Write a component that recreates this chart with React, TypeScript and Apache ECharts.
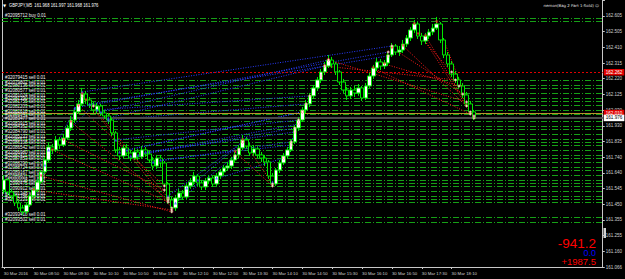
import React, { useEffect, useRef } from "react";
import * as echarts from "echarts";

const FONT = "Liberation Sans, Arial, sans-serif";

// ---- axis ticks ----
const timeLabels = [
  "30 Mar 2016", "30 Mar 08:50", "30 Mar 09:30", "30 Mar 10:10", "30 Mar 10:50", "30 Mar 11:30",
  "30 Mar 12:10", "30 Mar 12:50", "30 Mar 13:30", "30 Mar 14:10", "30 Mar 14:50", "30 Mar 15:30",
  "30 Mar 16:10", "30 Mar 16:50", "30 Mar 17:30", "30 Mar 18:10",
];
const yTickLabels = [
  "161.066", "161.160", "161.255", "161.355", "161.450", "161.545", "161.640", "161.740", "161.835",
  "161.930", "162.030", "162.125", "162.220", "162.315", "162.410", "162.505", "162.605",
];
const Y_MIN = 161.066;
const Y_MAX = 162.703;
const Y_STEP = 0.0962;
const TOTAL_SLOTS = 161;

// ---- GBPJPY M5 bars ----
const openPrices = [
  161.538, 161.600, 161.526, 161.502, 161.459, 161.428, 161.404, 161.446, 161.502, 161.538,
  161.587, 161.649, 161.722, 161.802, 161.784, 161.845, 161.814, 161.857, 161.918, 161.967,
  162.017, 162.066, 162.127, 162.090, 162.059, 162.029, 162.053, 162.010, 161.992, 161.967,
  161.888, 161.784, 161.747, 161.796, 161.765, 161.734, 161.771, 161.741, 161.784, 161.759,
  161.722, 161.685, 161.734, 161.704, 161.575, 161.477, 161.428, 161.489, 161.520, 161.495,
  161.563, 161.587, 161.624, 161.581, 161.557, 161.594, 161.612, 161.575, 161.624, 161.649,
  161.673, 161.685, 161.722, 161.753, 161.796, 161.845, 161.808, 161.765, 161.790, 161.753,
  161.734, 161.710, 161.624, 161.575, 161.661, 161.704, 161.747, 161.784, 161.833, 161.918,
  161.967, 162.029, 162.066, 162.115, 162.164, 162.213, 162.262, 162.298, 162.335, 162.311,
  162.262, 162.200, 162.151, 162.115, 162.151, 162.133, 162.164, 162.102, 162.176, 162.237,
  162.286, 162.323, 162.298, 162.317, 162.366, 162.421, 162.384, 162.396, 162.433, 162.470,
  162.519, 162.556, 162.482, 162.452, 162.482, 162.507, 162.531, 162.556, 162.458, 162.366,
  162.311, 162.249, 162.213, 162.176, 162.121, 162.066, 162.017,
];
const closePrices = [
  161.600, 161.526, 161.502, 161.459, 161.428, 161.404, 161.446, 161.502, 161.538, 161.587,
  161.649, 161.722, 161.802, 161.784, 161.845, 161.814, 161.857, 161.918, 161.967, 162.017,
  162.066, 162.127, 162.090, 162.059, 162.029, 162.053, 162.010, 161.992, 161.967, 161.888,
  161.784, 161.747, 161.796, 161.765, 161.734, 161.771, 161.741, 161.784, 161.759, 161.722,
  161.685, 161.734, 161.704, 161.575, 161.477, 161.428, 161.489, 161.520, 161.495, 161.563,
  161.587, 161.624, 161.581, 161.557, 161.594, 161.612, 161.575, 161.624, 161.649, 161.673,
  161.685, 161.722, 161.753, 161.796, 161.845, 161.808, 161.765, 161.790, 161.753, 161.734,
  161.710, 161.624, 161.575, 161.661, 161.704, 161.747, 161.784, 161.833, 161.918, 161.967,
  162.029, 162.066, 162.115, 162.164, 162.213, 162.262, 162.298, 162.335, 162.311, 162.262,
  162.200, 162.151, 162.115, 162.151, 162.133, 162.164, 162.102, 162.176, 162.237, 162.286,
  162.323, 162.298, 162.317, 162.366, 162.421, 162.384, 162.396, 162.433, 162.470, 162.519,
  162.556, 162.482, 162.452, 162.482, 162.507, 162.531, 162.556, 162.458, 162.366, 162.311,
  162.249, 162.213, 162.176, 162.121, 162.066, 162.017, 161.976,
];
const lowPrices = [
  161.514, 161.508, 161.477, 161.440, 161.410, 161.385, 161.391, 161.434, 161.483, 161.526,
  161.575, 161.636, 161.710, 161.759, 161.771, 161.790, 161.802, 161.845, 161.900, 161.949,
  162.004, 162.053, 162.066, 162.041, 162.010, 162.004, 161.992, 161.974, 161.943, 161.869,
  161.765, 161.722, 161.734, 161.747, 161.716, 161.722, 161.722, 161.728, 161.741, 161.704,
  161.661, 161.667, 161.679, 161.557, 161.453, 161.397, 161.410, 161.471, 161.477, 161.483,
  161.545, 161.569, 161.563, 161.538, 161.538, 161.575, 161.557, 161.563, 161.606, 161.630,
  161.655, 161.667, 161.704, 161.734, 161.784, 161.790, 161.747, 161.747, 161.734, 161.710,
  161.685, 161.606, 161.557, 161.563, 161.642, 161.691, 161.728, 161.771, 161.820, 161.900,
  161.955, 162.010, 162.047, 162.096, 162.145, 162.194, 162.243, 162.286, 162.286, 162.243,
  162.182, 162.133, 162.090, 162.096, 162.108, 162.115, 162.084, 162.090, 162.164, 162.219,
  162.268, 162.274, 162.280, 162.298, 162.354, 162.366, 162.360, 162.378, 162.415, 162.452,
  162.501, 162.464, 162.427, 162.433, 162.464, 162.488, 162.519, 162.439, 162.347, 162.292,
  162.231, 162.194, 162.157, 162.102, 162.047, 161.998, 161.967,
];
const highPrices = [
  161.624, 161.612, 161.545, 161.514, 161.477, 161.446, 161.459, 161.514, 161.557, 161.606,
  161.661, 161.741, 161.827, 161.820, 161.869, 161.863, 161.882, 161.937, 161.992, 162.041,
  162.090, 162.164, 162.145, 162.108, 162.078, 162.072, 162.066, 162.029, 162.010, 161.980,
  161.900, 161.802, 161.814, 161.820, 161.784, 161.796, 161.790, 161.808, 161.802, 161.777,
  161.741, 161.753, 161.753, 161.716, 161.587, 161.495, 161.508, 161.545, 161.538, 161.581,
  161.612, 161.649, 161.636, 161.600, 161.612, 161.630, 161.624, 161.642, 161.667, 161.691,
  161.710, 161.741, 161.771, 161.814, 161.876, 161.863, 161.827, 161.814, 161.802, 161.771,
  161.753, 161.722, 161.642, 161.673, 161.722, 161.765, 161.802, 161.851, 161.937, 161.986,
  162.047, 162.090, 162.133, 162.182, 162.231, 162.280, 162.323, 162.366, 162.354, 162.323,
  162.274, 162.219, 162.170, 162.170, 162.176, 162.188, 162.176, 162.194, 162.256, 162.305,
  162.347, 162.341, 162.335, 162.384, 162.439, 162.433, 162.421, 162.458, 162.488, 162.537,
  162.580, 162.568, 162.501, 162.501, 162.525, 162.556, 162.599, 162.568, 162.470, 162.384,
  162.329, 162.268, 162.231, 162.194, 162.139, 162.084, 162.029,
];

// ---- open order lines ----
const buyLevels = [162.590, 162.570];
const buyLabels = ["#32095712 buy 0.01", ""];
const sellLevels = [
  162.205, 162.180, 162.155, 162.130, 162.105, 162.080, 162.055, 162.030, 162.005, 161.980,
  161.955, 161.930, 161.905, 161.880, 161.855, 161.830, 161.805, 161.780, 161.755, 161.730,
  161.705, 161.680, 161.655, 161.630, 161.605, 161.580, 161.555, 161.530, 161.505, 161.480,
  161.455,
];
const sellTickets = [
  "#32079415", "#32079802", "#32080136", "#32080577", "#32081024", "#32081390", "#32081755",
  "#32082203", "#32082618", "#32083041", "#32083477", "#32083915", "#32084362", "#32084790",
  "#32085233", "#32085671", "#32086108", "#32086542", "#32086980", "#32087411", "#32087853",
  "#32088290", "#32088724", "#32089167", "#32089601", "#32090038", "#32090475", "#32090912",
  "#32091348", "#32091786", "#32092221",
];
const lowSellLevels = [161.365, 161.340];
const lowSellLabels = ["#32093418 sell 0.01", "#32093502 sell 0.01"];

const redLevel = 162.262;
const breakEvenLevel = 162.010;
const bidPrice = 161.976;

// ---- closed trades: [openBar, openPrice, closeBar, closePrice] ----
const buyTrades = [
  [19, 162.041, 103, 162.384], [21, 162.139, 104, 162.421], [23, 162.066, 103, 162.360],
  [26, 162.017, 87, 162.335], [28, 161.980, 86, 162.298], [31, 161.771, 80, 162.017],
  [34, 161.747, 79, 161.943], [38, 161.771, 78, 161.894], [42, 161.722, 77, 161.814],
  [44, 161.502, 64, 161.833], [46, 161.459, 62, 161.747], [49, 161.551, 75, 161.734],
  [72, 161.587, 85, 162.237], [12, 161.784, 24, 162.053], [11, 161.691, 21, 162.115],
  [30, 161.845, 79, 161.967], [33, 161.784, 80, 162.017], [36, 161.753, 78, 161.918],
  [40, 161.710, 77, 161.833], [28, 161.967, 81, 162.066], [25, 162.029, 82, 162.115],
  [52, 161.600, 64, 161.833], [57, 161.612, 63, 161.784],
];
const sellTrades = [
  [21, 162.127, 44, 161.489], [22, 162.090, 45, 161.428], [16, 161.845, 43, 161.538],
  [10, 161.624, 45, 161.404], [13, 161.784, 44, 161.465], [64, 161.845, 72, 161.575],
  [62, 161.771, 72, 161.563], [87, 162.335, 124, 162.078], [104, 162.409, 123, 162.127],
  [110, 162.556, 125, 162.017], [116, 162.568, 126, 161.980], [107, 162.421, 124, 162.053],
  [102, 162.311, 122, 162.176], [111, 162.495, 120, 162.262], [99, 162.286, 125, 162.004],
  [86, 162.298, 121, 162.213], [113, 162.482, 126, 161.992], [18, 161.955, 44, 161.477],
  [20, 162.053, 43, 161.563], [8, 161.538, 45, 161.416],
];

const pnlTotal = "-941.2";
const pnlOpen = "0.0";
const pnlClosed = "+1987.5";
const headerText = "GBPJPY,M5  161.968 161.997 161.968 161.976";
const expertText = "nemon(Bag 2 Part 1-Sold) \u263A";

export default function App() {
  const ref = useRef<HTMLDivElement>(null);

  useEffect(() => {
    if (!ref.current) return;
    const chart = echarts.init(ref.current, null, { renderer: "svg" });

    const categories = Array.from({ length: TOTAL_SLOTS }, (_, i) => {
      const m = 8 * 60 + 10 + 5 * i;
      return `${String(Math.floor(m / 60)).padStart(2, "0")}:${String(m % 60).padStart(2, "0")}`;
    });
    const candles = openPrices.map((o, i) => [o, closePrices[i], lowPrices[i], highPrices[i]]);

    const green = { color: "#169f16", width: 1, type: [6, 2, 1, 2] as any };
    const orderLabel = (text: string) => ({
      show: text !== "",
      position: "insideStartTop",
      formatter: text,
      color: "#f2f2f2",
      fontSize: 4.5,
      fontFamily: FONT,
      distance: [3, 0.5],
    });
    const orderData: any[] = [];
    buyLevels.forEach((p, i) => orderData.push({ yAxis: p, lineStyle: green, label: orderLabel(buyLabels[i]) }));
    sellLevels.forEach((p, i) =>
      orderData.push({ yAxis: p, lineStyle: green, label: orderLabel(`${sellTickets[i]} sell 0.01`) })
    );
    lowSellLevels.forEach((p, i) => orderData.push({ yAxis: p, lineStyle: green, label: orderLabel(lowSellLabels[i]) }));

    const boxLabel = (text: string, bg: string, fg: string) => ({
      show: true,
      position: "end",
      formatter: text,
      backgroundColor: bg,
      color: fg,
      fontSize: 4.6,
      fontFamily: FONT,
      padding: [1, 2, 0.5, 2],
      distance: 1,
    });
    const specialData: any[] = [
      { yAxis: redLevel, lineStyle: { color: "#e00000", width: 1, type: [2, 2] }, label: boxLabel(redLevel.toFixed(3), "#e00000", "#ffffff") },
      { yAxis: breakEvenLevel, lineStyle: { color: "#b8922a", width: 1, type: "solid" }, label: boxLabel(breakEvenLevel.toFixed(3), "#e00000", "#ffffff") },
      { yAxis: bidPrice, lineStyle: { color: "#4a4a4a", width: 2, type: "solid" }, label: boxLabel(bidPrice.toFixed(3), "#ffffff", "#000000") },
    ];

    const tradeData: any[] = [];
    buyTrades.forEach(([a, pa, b, pb]) =>
      tradeData.push([
        { coord: [a, pa], lineStyle: { color: "#2a3cff", width: 1, type: [1, 1.5] } },
        { coord: [b, pb] },
      ])
    );
    sellTrades.forEach(([a, pa, b, pb]) =>
      tradeData.push([
        { coord: [a, pa], lineStyle: { color: "#ff1a1a", width: 1, type: [1, 1.5] } },
        { coord: [b, pb] },
      ])
    );

    const buyOpens = buyTrades.map((t) => [t[0], t[1]]);
    const sellOpens = sellTrades.map((t) => [t[0], t[1]]);
    const closes = [...buyTrades, ...sellTrades].map((t) => [t[2], t[3]]);

    const option: any = {
      animation: false,
      backgroundColor: "#000000",
      textStyle: { fontFamily: FONT },
      grid: { left: 2, right: 20, top: 0, bottom: 12 },
      xAxis: {
        type: "category",
        data: categories,
        boundaryGap: true,
        axisLine: { show: true, lineStyle: { color: "#c8c8c8", width: 1 } },
        axisTick: {
          show: true,
          alignWithLabel: true,
          length: 2,
          interval: (i: number) => i % 8 === 0 && i <= 120,
          lineStyle: { color: "#c8c8c8" },
        },
        axisLabel: {
          interval: (i: number) => i % 8 === 0 && i <= 120,
          formatter: (_v: string, i: number) => timeLabels[i / 8] ?? "",
          align: "left",
          color: "#d0d0d0",
          fontSize: 4.3,
          margin: 4,
        },
        splitLine: { show: false },
      },
      yAxis: [
        {
          type: "value",
          position: "right",
          min: Y_MIN,
          max: Y_MAX,
          interval: Y_STEP,
          scale: true,
          axisLine: { show: true, lineStyle: { color: "#c8c8c8", width: 1 } },
          axisTick: { show: true, length: 2, lineStyle: { color: "#c8c8c8" } },
          axisLabel: {
            color: "#d0d0d0",
            fontSize: 4.5,
            margin: 3,
            formatter: (v: number) => yTickLabels[Math.round((v - Y_MIN) / Y_STEP)] ?? "",
          },
          splitLine: { show: false },
        },
        {
          type: "value",
          position: "left",
          min: Y_MIN,
          max: Y_MAX,
          scale: true,
          axisLine: { show: true, lineStyle: { color: "#c8c8c8", width: 1 } },
          axisTick: { show: false },
          axisLabel: { show: false },
          splitLine: { show: false },
        },
      ],
      series: [
        {
          name: "orders",
          type: "line",
          data: [],
          z: 2,
          markLine: { silent: true, symbol: ["none", "none"], data: orderData },
        },
        {
          name: "trades",
          type: "line",
          data: [],
          z: 3,
          markLine: { silent: true, symbol: ["none", "none"], label: { show: false }, data: tradeData },
        },
        {
          name: "price",
          type: "candlestick",
          data: candles,
          barWidth: 4,
          z: 5,
          itemStyle: {
            color: "#ffffff",
            color0: "#000000",
            borderColor: "#00e600",
            borderColor0: "#00e600",
            borderWidth: 1,
          },
        },
        {
          name: "levels",
          type: "line",
          data: [],
          z: 6,
          markLine: { silent: true, symbol: ["none", "none"], data: specialData },
        },
        {
          name: "buyOpen",
          type: "scatter",
          data: buyOpens,
          symbol: "triangle",
          symbolSize: 3,
          z: 7,
          itemStyle: { color: "#3a5bff" },
        },
        {
          name: "sellOpen",
          type: "scatter",
          data: sellOpens,
          symbol: "triangle",
          symbolRotate: 180,
          symbolSize: 3,
          z: 7,
          itemStyle: { color: "#ff3030" },
        },
        {
          name: "close",
          type: "scatter",
          data: closes,
          symbol: "diamond",
          symbolSize: 3,
          z: 7,
          itemStyle: { color: "#ffffff", borderColor: "#ff4040", borderWidth: 0.5 },
        },
      ],
      graphic: [
        {
          type: "text",
          x: 3,
          y: 5,
          style: { text: "\u25BC", fill: "#ffffff", fontSize: 4, fontFamily: "DejaVu Sans", verticalAlign: "middle", textVerticalAlign: "middle" },
        },
        {
          type: "text",
          x: 9,
          y: 5,
          scaleX: 0.84,
          style: { text: headerText, fill: "#ffffff", fontSize: 5, fontFamily: FONT, verticalAlign: "middle", textVerticalAlign: "middle" },
        },
        {
          type: "text",
          x: 599,
          y: 5,
          style: { text: expertText, fill: "#e0e0e0", fontSize: 3.9, fontFamily: "DejaVu Sans", align: "right", textAlign: "right", verticalAlign: "middle", textVerticalAlign: "middle" },
        },
        {
          type: "rect",
          shape: { x: 603.5, y: 228, width: 2.5, height: 10 },
          style: { fill: "#d0d0d0" },
        },
        {
          type: "text",
          x: 596,
          y: 243,
          style: { text: pnlTotal, fill: "#ff0000", fontSize: 13.5, fontFamily: FONT, align: "right", textAlign: "right", verticalAlign: "middle", textVerticalAlign: "middle" },
        },
        {
          type: "text",
          x: 596,
          y: 253,
          style: { text: pnlOpen, fill: "#0000ff", fontSize: 9, fontFamily: FONT, align: "right", textAlign: "right", verticalAlign: "middle", textVerticalAlign: "middle" },
        },
        {
          type: "text",
          x: 596,
          y: 261.5,
          style: { text: pnlClosed, fill: "#ff0000", fontSize: 9.5, fontFamily: FONT, align: "right", textAlign: "right", verticalAlign: "middle", textVerticalAlign: "middle" },
        },
      ],
    };

    chart.setOption(option);
    return () => chart.dispose();
  }, []);

  return (
    <div
      ref={ref}
      style={{ position: "fixed", left: 0, top: 0, width: 625, height: 279, background: "#000000" }}
    />
  );
}
